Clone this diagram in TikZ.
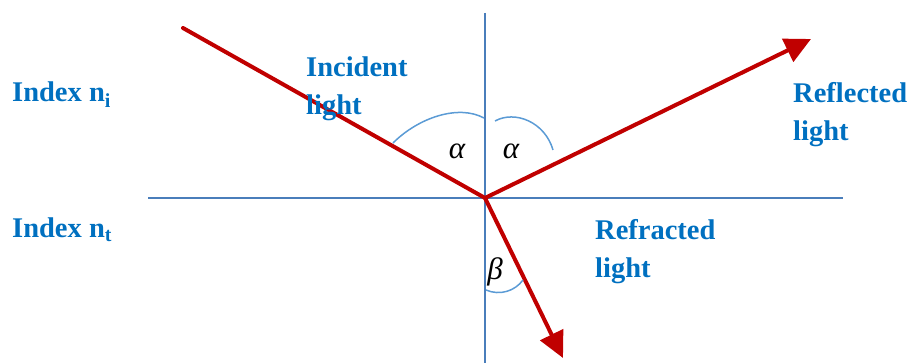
\documentclass[tikz,border=0pt]{standalone}
\usepackage{fontspec}
\setmainfont{Liberation Serif}
\usetikzlibrary{arrows.meta}
\definecolor{lblue}{HTML}{0070C0}
\definecolor{axisblue}{HTML}{4A7EBB}
\definecolor{arcblue}{HTML}{5B9BD5}
\definecolor{ray}{HTML}{C00000}
\begin{document}
\begin{tikzpicture}[x=1pt,y=-1pt,
  axis/.style={draw=axisblue,line width=1.5pt},
  anglearc/.style={draw=arcblue,line width=1.5pt},
  lightray/.style={draw=ray,line width=4pt},
  rayarrow/.style={lightray,-{Triangle[length=26pt,width=25pt]}},
  lbl/.style={text=lblue,font=\fontsize{28.5}{38}\selectfont\bfseries,inner sep=0pt,anchor=north west,align=left},
  ang/.style={inner sep=0pt,font=\fontsize{31}{31}\selectfont\itshape}]
\useasboundingbox (0,0) rectangle (914,363);
% axes
\coordinate (O) at (485,198);
\coordinate (vtop) at (485,13);
\coordinate (vbot) at (485,363);
\coordinate (hl) at (148,198);
\coordinate (hr) at (843,198);
\draw[axis] (vtop) -- (vbot);
\draw[axis] (hl) -- (hr);
% rays
\coordinate (src) at (183,28);
\coordinate (rtip) at (811,39);
\coordinate (ttip) at (563,358);
\draw[lightray,line cap=round] (src) -- (O);
\draw[rayarrow] (O) -- (rtip);
\draw[rayarrow] (O) -- (ttip);
% angle arcs
\coordinate (a1s) at (393,143);
\coordinate (a1e) at (484,118);
\coordinate (a2s) at (495,121);
\coordinate (a2e) at (553,150);
\coordinate (bs) at (486,290);
\coordinate (be) at (523,280);
\draw[anglearc] (a1s) .. controls (418,118) and (458,104) .. (a1e);
\draw[anglearc] (a2s) .. controls (515,110) and (545,122) .. (a2e);
\draw[anglearc] (bs) .. controls (500,296) and (515,291) .. (be);
% angle labels
\node[ang] (al1) at (457,151) {α};
\node[ang] (al2) at (511,151) {α};
\node[ang] (bl) at (495,272) {β};
% text labels
\node[lbl,anchor=base west] (ni) at (12,102) {Index n\textsubscript{i}};
\node[lbl,anchor=base west] (nt) at (12,238) {Index n\textsubscript{t}};
\node[lbl] (inc) at (306,57) {Incident\\light};
\node[lbl] (refl) at (793,82) {Reflected\\light};
\node[lbl] (refr) at (595,219) {Refracted\\light};
\end{tikzpicture}
\end{document}
